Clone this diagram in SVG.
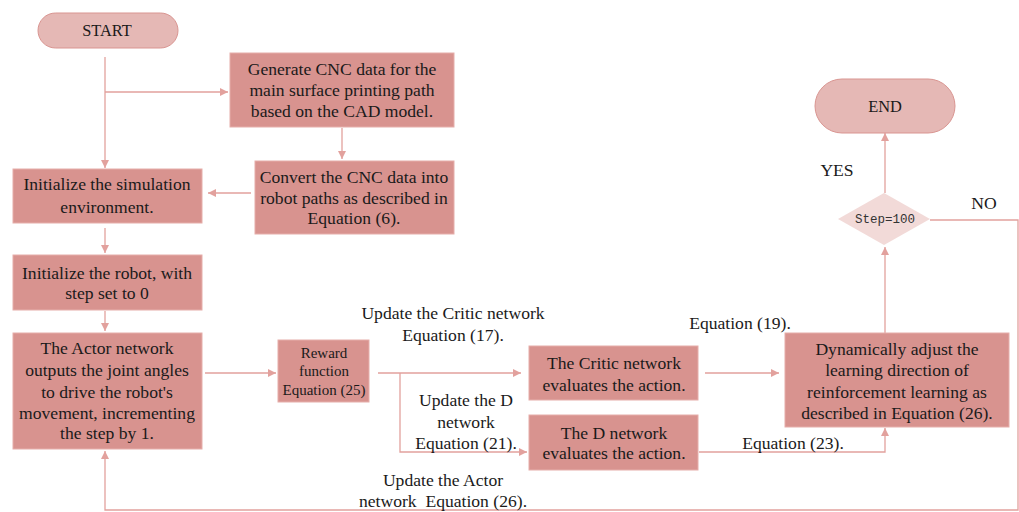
<svg xmlns="http://www.w3.org/2000/svg" width="1019" height="512" viewBox="0 0 1019 512" font-family="'Liberation Serif', 'Times New Roman', Times, serif">
<defs>
<marker id="ah" viewBox="0 0 10 10" refX="10" refY="5" markerWidth="13" markerHeight="8" markerUnits="userSpaceOnUse" orient="auto">
<path d="M0,0 L10,5 L0,10 z" fill="#e2a19d"/>
</marker>
<style>
.box{fill:#d8938f;stroke:#e6aeaa;stroke-width:1}
.term{fill:#e5b8b5;stroke:#d99591;stroke-width:1}
.dia{fill:#f2dad8;stroke:none}
.arr{fill:none;stroke:#e2a19d;stroke-width:1.3;marker-end:url(#ah)}
text{font-size:17.6px;fill:#1a1a1a;text-anchor:middle}
.sm{font-size:15px}
.tm{font-size:16.4px}
.mono{font-family:'Liberation Mono','DejaVu Sans Mono',monospace;font-size:12.5px;fill:#333}
</style>
</defs>
<rect width="1019" height="512" fill="#ffffff"/>
<g id="connectors">
<path class="arr" d="M105,57 V168"/>
<path class="arr" d="M105,92 H228"/>
<path class="arr" d="M342,128 V159"/>
<path class="arr" d="M251,193 H208"/>
<path class="arr" d="M105,228 V253"/>
<path class="arr" d="M105,311 V331"/>
<path class="arr" d="M205,373 H276"/>
<path class="arr" d="M378,373 H521"/>
<path class="arr" d="M400,373 V452 H527"/>
<path class="arr" d="M705,373 H779"/>
<path class="arr" d="M699,452 H885 V428"/>
<path class="arr" d="M885,333 V247"/>
<path class="arr" d="M885,193 V133"/>
<path class="arr" d="M930,220 H1018 V510 H105 V451"/>
</g>
<g id="start"><rect class="term" x="38" y="13" width="140" height="35" rx="17.5"/><text x="107" y="36" class="tm">START</text></g>
<g id="gen"><rect class="box" x="230" y="53" width="224" height="74"/><text x="342" y="75">Generate CNC data for the</text><text x="342" y="96">main surface printing path</text><text x="342" y="117">based on the CAD model.</text></g>
<g id="conv"><rect class="box" x="255" y="161" width="199" height="73"/><text x="354" y="183">Convert the CNC data into</text><text x="354" y="204">robot paths as described in</text><text x="354" y="224">Equation (6).</text></g>
<g id="initsim"><rect class="box" x="13" y="169" width="189" height="54"/><text x="107" y="190">Initialize the simulation</text><text x="107" y="213">environment.</text></g>
<g id="initrobot"><rect class="box" x="13" y="255" width="189" height="55"/><text x="107" y="279">Initialize the robot, with</text><text x="107" y="299">step set to 0</text></g>
<g id="actor"><rect class="box" x="13" y="333" width="189" height="116"/><text x="107" y="354">The Actor network</text><text x="107" y="376">outputs the joint angles</text><text x="107" y="398">to drive the robot's</text><text x="107" y="419">movement, incrementing</text><text x="107" y="439">the step by 1.</text></g>
<g id="reward"><rect class="box" x="278" y="340" width="91" height="62"/><text x="324" y="358" class="sm">Reward</text><text x="324" y="376" class="sm">function</text><text x="324" y="395" class="sm">Equation (25)</text></g>
<g id="critic"><rect class="box" x="529" y="346" width="169" height="54"/><text x="614" y="369">The Critic network</text><text x="614" y="391">evaluates the action.</text></g>
<g id="dnet"><rect class="box" x="529" y="415" width="169" height="55"/><text x="614" y="439">The D network</text><text x="614" y="459">evaluates the action.</text></g>
<g id="dyn"><rect class="box" x="785" y="333" width="224" height="94"/><text x="897" y="355">Dynamically adjust the</text><text x="897" y="376">learning direction of</text><text x="897" y="398">reinforcement learning as</text><text x="897" y="419">described in Equation (26).</text></g>
<g id="decision"><polygon class="dia" points="884,193 930,219 884,245 838,219"/><text x="885" y="223" class="mono">Step=100</text></g>
<g id="end"><rect class="term" x="815" y="79" width="140" height="54" rx="27"/><text x="885" y="112" class="tm">END</text></g>
<g id="labels">
<text x="837" y="176">YES</text>
<text x="984" y="209">NO</text>
<text x="453" y="319">Update the Critic network</text>
<text x="453" y="341">Equation (17).</text>
<text x="466" y="406">Update the D</text>
<text x="466" y="428">network</text>
<text x="466" y="449">Equation (21).</text>
<text x="740" y="329">Equation (19).</text>
<text x="793" y="449">Equation (23).</text>
<text x="443" y="486">Update the Actor</text>
<text x="443" y="507" xml:space="preserve">network  Equation (26).</text>
</g>
</svg>
